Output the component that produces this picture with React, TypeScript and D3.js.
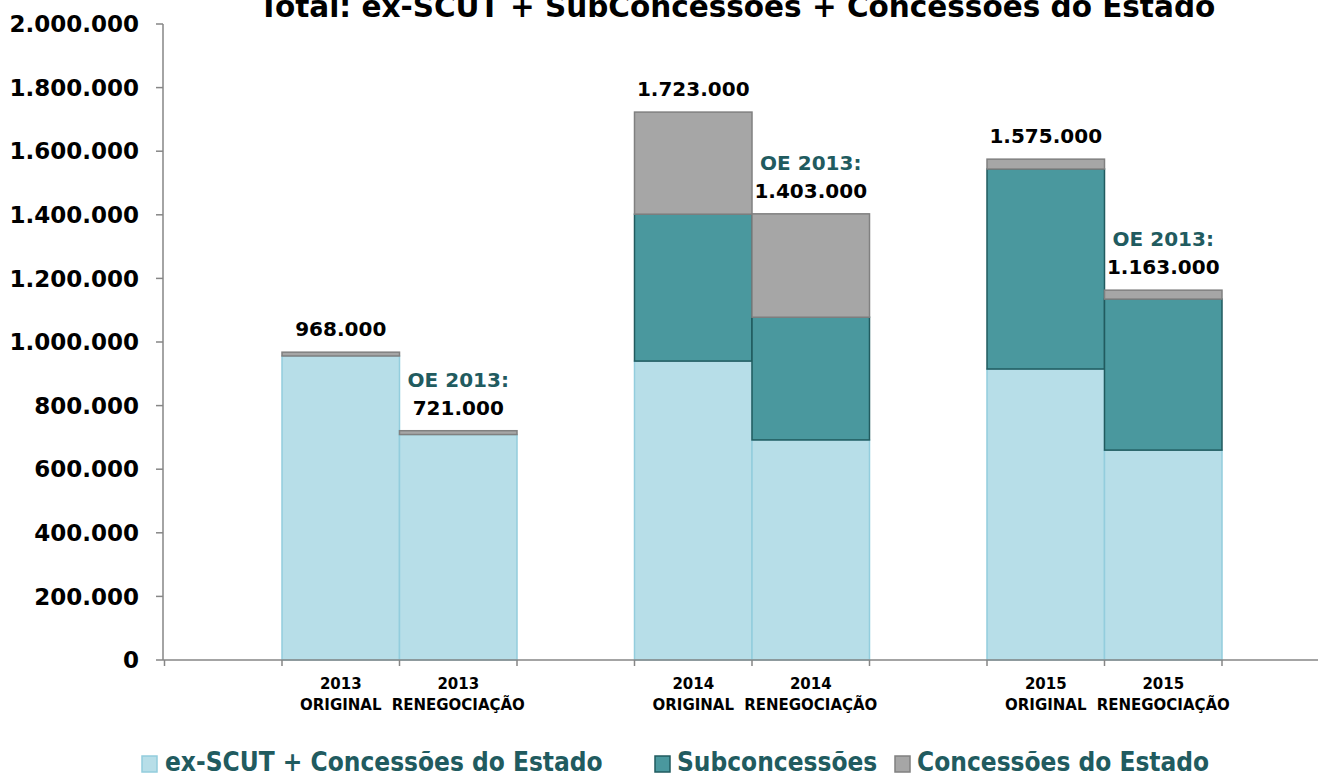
import * as d3 from 'd3'

const years = ['2013', '2013', '2014', '2014', '2015', '2015']
const scenarios = ['ORIGINAL', 'RENEGOCIAÇÃO', 'ORIGINAL', 'RENEGOCIAÇÃO', 'ORIGINAL', 'RENEGOCIAÇÃO']
const exScut = [956000, 709000, 940000, 692000, 915000, 660000]
const subconcessoes = [0, 0, 462000, 386000, 629000, 475000]
const concessoesEstado = [12000, 12000, 321000, 325000, 31000, 28000]
const notes = ['', 'OE 2013:', '', 'OE 2013:', '', 'OE 2013:']
const yTicks = [0, 200000, 400000, 600000, 800000, 1000000, 1200000, 1400000, 1600000, 1800000, 2000000]
const seriesNames = ['ex-SCUT + Concessões do Estado', 'Subconcessões', 'Concessões do Estado']

const W = 1324
const H = 777
const FONT = '"DejaVu Sans", Verdana, sans-serif'

const fills = ['#b7dee8', '#4a989e', '#a6a6a6']
const strokes = ['#93cddd', '#215b5f', '#808080']
const teal = '#215b5f'

const ptFormat = d3.formatLocale({ decimal: ',', thousands: '.', grouping: [3], currency: ['', ''] }).format(',d')

// slots: empty slot before each year pair, like the original sheet
const slotKeys: string[] = []
years.forEach((y, i) => {
  if (i % 2 === 0) slotKeys.push('gap' + i)
  slotKeys.push(y + '-' + scenarios[i])
})
slotKeys.push('gapEnd')

export default function App() {
  const x = d3.scaleBand<string>()
    .domain(slotKeys)
    .range([164.5, 164.5 + 117.5 * slotKeys.length])
    .padding(0)

  const y = d3.scaleLinear().domain([0, 2000000]).range([660, 24])

  const rows = years.map((yr, i) => ({
    key: yr + '-' + scenarios[i],
    year: yr,
    scenario: scenarios[i],
    s0: exScut[i],
    s1: subconcessoes[i],
    s2: concessoesEstado[i],
    note: notes[i],
  }))

  const stack = d3.stack<any>().keys(['s0', 's1', 's2'])(rows)

  const axisLeft = 163
  const axisRight = 1318

  const legendItems = [
    { sq: 142, tx: 165 },
    { sq: 655, tx: 677 },
    { sq: 895, tx: 917 },
  ]

  return (
    <svg width={W} height={H} style={{ position: 'absolute', left: 0, top: 0, background: '#fff' }} fontFamily={FONT}>
      <text x={737} y={17} textAnchor="middle" fontSize={29.5} fontWeight="bold" fill="#000">
        Total: ex-SCUT + SubConcessões + Concessões do Estado
      </text>

      {/* y axis */}
      <line x1={axisLeft} x2={axisLeft} y1={y(2000000)} y2={y(0)} stroke="#868686" strokeWidth={1.5} />
      {yTicks.map(t => (
        <g key={t}>
          <line x1={axisLeft - 7} x2={axisLeft} y1={y(t)} y2={y(t)} stroke="#868686" strokeWidth={1.5} />
          <text x={139} y={y(t)} dy="0.36em" textAnchor="end" fontSize={23} fontWeight="bold" fill="#000">
            {ptFormat(t)}
          </text>
        </g>
      ))}

      {/* bars */}
      {stack.map((layer, li) => (
        <g key={li}>
          {layer.map((d, i) => (d[1] - d[0] > 0 ? (
            <rect
              key={i}
              x={x(rows[i].key)!}
              width={x.bandwidth()}
              y={y(d[1])}
              height={y(d[0]) - y(d[1])}
              fill={fills[li]}
              stroke={strokes[li]}
              strokeWidth={1.5}
            />
          ) : null))}
        </g>
      ))}

      {/* x axis */}
      <line x1={axisLeft} x2={axisRight} y1={y(0)} y2={y(0)} stroke="#868686" strokeWidth={1.5} />
      {slotKeys.map(k => (
        <line key={k} x1={x(k)!} x2={x(k)!} y1={y(0)} y2={y(0) + 6} stroke="#868686" strokeWidth={1.5} />
      ))}
      {rows.map(r => {
        const cx = x(r.key)! + x.bandwidth() / 2
        return (
          <text key={r.key} textAnchor="middle" fontSize={15} fontWeight="bold" fill="#000">
            <tspan x={cx} y={689}>{r.year}</tspan>
            <tspan x={cx} y={710}>{r.scenario}</tspan>
          </text>
        )
      })}

      {/* totals */}
      {rows.map(r => {
        const cx = x(r.key)! + x.bandwidth() / 2
        const total = r.s0 + r.s1 + r.s2
        const ty = y(total) - 16
        return (
          <g key={r.key}>
            {r.note && (
              <text x={cx} y={ty - 28} textAnchor="middle" fontSize={20} fontWeight="bold" fill={teal}>{r.note}</text>
            )}
            <text x={cx} y={ty} textAnchor="middle" fontSize={20} fontWeight="bold" fill="#000">{ptFormat(total)}</text>
          </g>
        )
      })}

      {/* legend */}
      {seriesNames.map((name, i) => (
        <g key={name}>
          <rect x={legendItems[i].sq} y={756} width={15} height={16} fill={fills[i]} stroke={strokes[i]} strokeWidth={1.5} />
          <text x={legendItems[i].tx} y={771} fontSize={26} fontWeight="bold" fill={teal} fontStretch="condensed"
            style={{ fontFamily: '"DejaVu Sans Condensed", "DejaVu Sans", sans-serif' }}>
            {name}
          </text>
        </g>
      ))}
    </svg>
  )
}
